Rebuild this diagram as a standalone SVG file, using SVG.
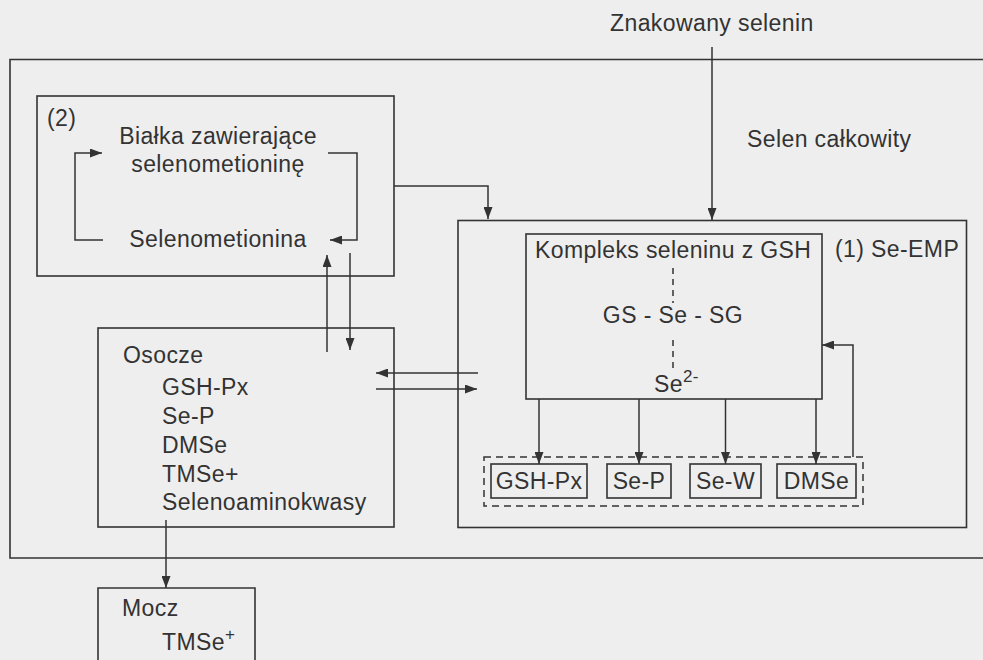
<svg xmlns="http://www.w3.org/2000/svg" width="983" height="660" viewBox="0 0 983 660">
<defs>
<marker id="ah" viewBox="0 0 12 10" refX="12" refY="5" markerWidth="12" markerHeight="9" markerUnits="userSpaceOnUse" orient="auto" preserveAspectRatio="none">
<path d="M0,0 L12,5 L0,10 z" fill="#333"/>
</marker>
<style>
text{font-family:"Liberation Sans",Arial,sans-serif;font-size:23px;letter-spacing:0.4px;fill:#333}
.b{fill:none;stroke:#333;stroke-width:1.6}
.c{fill:none;stroke:#333;stroke-width:1.5}
.a{marker-end:url(#ah)}
.d{fill:none;stroke:#333;stroke-width:1.5;stroke-dasharray:7 5}
.sup{font-size:17px}
</style>
</defs>
<rect width="983" height="660" fill="#eeeeee"/>

<g id="selen-calkowity">
<path class="b" d="M983,59.5 H10 V558 H983"/>
<text x="747" y="147">Selen całkowity</text>
</g>

<g id="znakowany">
<text x="610" y="31">Znakowany selenin</text>
</g>

<g id="bialka">
<rect class="b" x="37" y="96" width="357" height="180"/>
<text x="47" y="126">(2)</text>
<text x="218" y="144" text-anchor="middle">Białka zawierające</text>
<text x="218" y="172" text-anchor="middle">selenometioninę</text>
<text x="218" y="247" text-anchor="middle">Selenometionina</text>
</g>

<g id="se-emp">
<rect class="b" x="458" y="220.5" width="508.5" height="307"/>
<text x="835" y="257">(1) Se-EMP</text>
</g>

<g id="kompleks">
<rect class="b" x="526" y="234" width="296" height="165"/>
<text x="535" y="258">Kompleks seleninu z GSH</text>
<text x="673" y="323" text-anchor="middle">GS - Se - SG</text>
<text x="654" y="392">Se<tspan class="sup" dy="-10">2-</tspan></text>
<path class="c" d="M673,268 V303 M673,340 V368" stroke-dasharray="6 5"/>
</g>

<g id="produkty">
<rect class="d" x="484" y="457" width="379" height="49"/>
</g>
<g id="gsh-px">
<rect class="b" x="491" y="464" width="96" height="34"/>
<text x="539" y="489" text-anchor="middle">GSH-Px</text>
</g>
<g id="se-p">
<rect class="b" x="607" y="464" width="64" height="34"/>
<text x="639" y="489" text-anchor="middle">Se-P</text>
</g>
<g id="se-w">
<rect class="b" x="690" y="464" width="71" height="34"/>
<text x="725.5" y="489" text-anchor="middle">Se-W</text>
</g>
<g id="dmse">
<rect class="b" x="777" y="464" width="79" height="34"/>
<text x="816.5" y="489" text-anchor="middle">DMSe</text>
</g>

<g id="osocze">
<rect class="b" x="98" y="328" width="296" height="199"/>
<text x="123" y="363">Osocze</text>
<text x="162" y="395">GSH-Px</text>
<text x="162" y="424">Se-P</text>
<text x="162" y="453">DMSe</text>
<text x="162" y="482">TMSe+</text>
<text x="162" y="510">Selenoaminokwasy</text>
</g>

<g id="mocz">
<path class="b" d="M98,661 V588 H255 V661"/>
<text x="122" y="616">Mocz</text>
<text x="162" y="650">TMSe<tspan class="sup" dy="-10">+</tspan></text>
</g>

<g id="connectors">
<path class="c a" d="M712,47 V220"/>
<path class="c a" d="M394,186 H488 V219"/>
<path class="c a" d="M103,240 H75 V153 H102"/>
<path class="c a" d="M328,153 H357 V240 H330"/>
<path class="c a" d="M327,352 V255"/>
<path class="c a" d="M350,253 V350"/>
<path class="c a" d="M478,373 H376"/>
<path class="c a" d="M376,389 H477"/>
<path class="c a" d="M539,399 V464"/>
<path class="c a" d="M639,399 V464"/>
<path class="c a" d="M725.5,399 V464"/>
<path class="c a" d="M816,399 V464"/>
<path class="c a" d="M853,457 V345 H822"/>
<path class="c a" d="M166,520 V588"/>
</g>
</svg>
